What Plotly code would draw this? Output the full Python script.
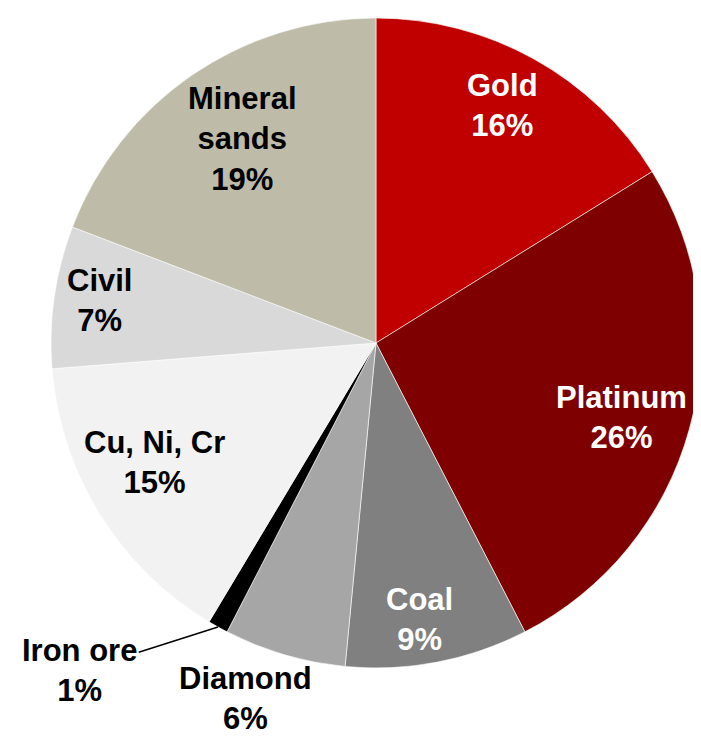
import math
import plotly.graph_objects as go

# ---- data ----
labels = ["Gold", "Platinum", "Coal", "Diamond", "Iron ore", "Cu, Ni, Cr", "Civil", "Mineral sands"]
display_names = ["Gold", "Platinum", "Coal", "Diamond", "Iron ore", "Cu, Ni, Cr", "Civil", "Mineral<br>sands"]
values = [16, 26, 9, 6, 1, 15, 7, 19]

# ---- style ----
colors = ["#C00000", "#7F0000", "#808080", "#A6A6A6", "#000000", "#F2F2F2", "#D9D9D9", "#BEBCA9"]
text_colors = ["white", "white", "white", "black", "black", "black", "black", "black"]
label_rfac = [0.83, 0.79, 0.86, 1.165, 1.36, 0.775, 0.86, 0.75]
label_dang = [-1.0, 1.5, 2.0, 3.8, 13.0, 3.6, 0.6, 1.4]
FONT_SIZE = 31

# page body has an 8px margin, so the figure is sized to fit the window
W, H = 693, 738
dom_x = [0.062, 1.0]
dom_y = [0.1057, 0.9864]

fig = go.Figure(go.Pie(
    labels=labels,
    values=values,
    sort=False,
    direction="clockwise",
    rotation=0,
    marker=dict(colors=colors, line=dict(color="white", width=0.6)),
    textinfo="none",
    hoverinfo="label+percent",
    domain=dict(x=dom_x, y=dom_y),
    showlegend=False,
))

# pie geometry (same as plotly's own scaling)
bw = W * (dom_x[1] - dom_x[0])
bh = H * (dom_y[1] - dom_y[0])
R = min(bw, bh) / 2
cx = W * (dom_x[0] + dom_x[1]) / 2
cy = H * (1 - dom_y[0]) - bh / 2

total = sum(values)
cum = 0
font_family = "Arial, Liberation Sans, sans-serif"
for i, v in enumerate(values):
    mid = (cum + v / 2) / total * 360
    cum += v
    ang = math.radians(mid + label_dang[i])
    r = R * label_rfac[i]
    px = cx + r * math.sin(ang)
    py = cy - r * math.cos(ang)
    txt = f"<b>{display_names[i]}<br>{v}%</b>"
    if labels[i] == "Iron ore":
        ta = math.radians(mid)
        tx = cx + R * math.sin(ta)
        ty = cy - R * math.cos(ta)
        fig.add_annotation(
            x=tx / W, y=1 - ty / H, xref="paper", yref="paper",
            ax=px - tx, ay=py - ty, axref="pixel", ayref="pixel",
            text=txt, showarrow=True, arrowhead=0, arrowwidth=1.5,
            arrowcolor="black", standoff=0,
            font=dict(family=font_family, size=FONT_SIZE, color=text_colors[i]),
            align="center",
        )
    else:
        fig.add_annotation(
            x=px / W, y=1 - py / H, xref="paper", yref="paper",
            text=txt, showarrow=False, xanchor="center", yanchor="middle",
            font=dict(family=font_family, size=FONT_SIZE, color=text_colors[i]),
            align="center",
        )

fig.update_layout(
    width=W, height=H,
    margin=dict(l=0, r=0, t=0, b=0),
    paper_bgcolor="white",
    plot_bgcolor="white",
)

fig.write_html("out.html")
